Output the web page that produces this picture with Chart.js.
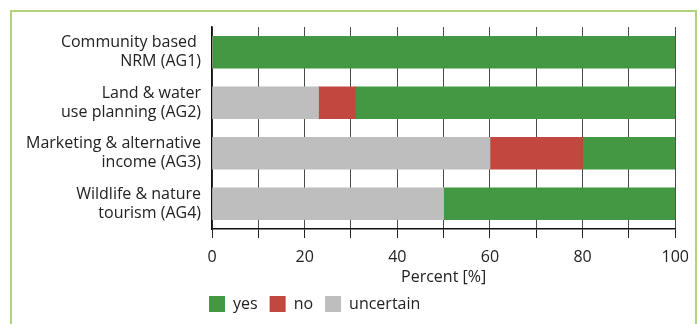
<!DOCTYPE html>
<html>
<head>
<meta charset="utf-8">
<script src="https://cdn.jsdelivr.net/npm/chart.js@4/dist/chart.umd.min.js"></script>
<style>
  html, body { margin: 0; padding: 0; background: #fff; }
  #wrap { position: relative; width: 699px; height: 324px; overflow: hidden; }
  #frame { position: absolute; left: 10px; top: 10px; width: 687px; height: 330px; border: 2px solid #afd27b; box-sizing: border-box; }
  canvas { position: absolute; left: 0; top: 0; }
</style>
</head>
<body>
<div id="wrap">
  <div id="frame"></div>
  <canvas id="c" width="699" height="324"></canvas>
</div>
<script>
const categories = [
  ["Community based ", "NRM (AG1)"],
  ["Land & water", "use planning (AG2)"],
  ["Marketing & alternative", "income (AG3)"],
  ["Wildlife & nature", "tourism (AG4)"]
];
const uncertainValues = [0, 23, 60, 50];
const noValues = [0, 8, 20, 0];
const yesValues = [100, 69, 20, 50];
const xTickLabels = ["0", "", "20", "", "40", "", "60", "", "80", "", "100"];
const xTitle = "Percent [%]";

const FONT = "'Open Sans', sans-serif";

const legendShift = {
  id: 'legendShift',
  afterLayout(chart) {
    if (chart.legend) { chart.legend.left = 197; }
  }
};

new Chart(document.getElementById('c'), {
  type: 'bar',
  data: {
    labels: categories,
    datasets: [
      { label: 'uncertain', data: uncertainValues, backgroundColor: '#bebebe' },
      { label: 'no', data: noValues, backgroundColor: '#c1473f' },
      { label: 'yes', data: yesValues, backgroundColor: '#449843' }
    ]
  },
  options: {
    indexAxis: 'y',
    responsive: false,
    animation: false,
    devicePixelRatio: 1,
    layout: { padding: { top: 27, right: 23, bottom: 2, left: 0 } },
    datasets: { bar: { barThickness: 32, borderWidth: 0 } },
    scales: {
      x: {
        stacked: true,
        min: 0, max: 100,
        ticks: {
          stepSize: 10,
          autoSkip: false,
          callback: (v, i) => xTickLabels[i],
          color: '#222', font: { family: FONT, size: 16 }, padding: 10, maxRotation: 0
        },
        afterFit(scale) { scale.height = 55; },
        grid: { display: true, color: '#4a4a4a', lineWidth: 1, drawTicks: true, tickLength: 9, tickColor: '#222' },
        border: { display: true, color: '#111', width: 1.5 },
        title: { display: true, text: xTitle, color: '#222', font: { family: FONT, size: 16 }, padding: { top: 2, bottom: -3 } }
      },
      y: {
        stacked: true,
        afterFit(scale) { scale.width = 212; },
        grid: { display: false },
        border: { display: true, color: '#111', width: 1.5 },
        ticks: { color: '#222', font: { family: FONT, size: 16, lineHeight: 1.2 }, padding: 3 }
      }
    },
    plugins: {
      legend: {
        position: 'bottom',
        align: 'start',
        labels: {
          boxWidth: 16, boxHeight: 16, padding: 12,
          color: '#222',
          font: { family: FONT, size: 16 },
          sort: (a, b) => b.datasetIndex - a.datasetIndex
        }
      },
      tooltip: { enabled: false }
    }
  },
  plugins: [legendShift]
});
</script>
</body>
</html>
